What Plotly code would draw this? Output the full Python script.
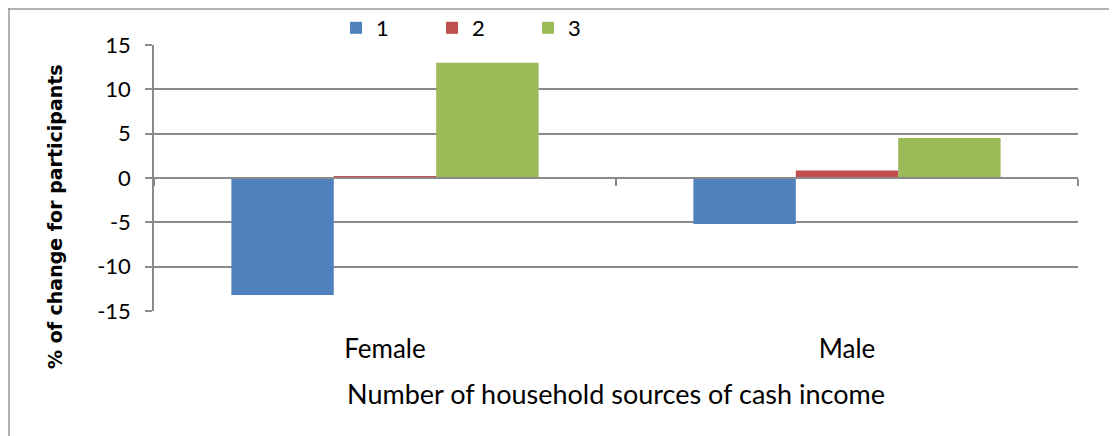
import plotly.graph_objects as go

groups = ["Female", "Male"]
series_names = ["1", "2", "3"]
series_values = [
    [-13.2, -5.2],
    [0.2, 0.85],
    [13.0, 4.5],
]
colors = ["#4F81BD", "#C0504D", "#9BBB59"]
y_ticks = [-15, -10, -5, 0, 5, 10, 15]

# the page body has an 8px margin, so the figure is a bit smaller than the window
W, H = 1109, 428
L, R, T, B = 146, 39, 37, 125
PW, PH = W - L - R, H - T - B

fig = go.Figure()

for name, vals, col in zip(series_names, series_values, colors):
    fig.add_trace(
        go.Bar(
            x=groups,
            y=vals,
            name=name,
            marker=dict(color=col, line=dict(width=0)),
        )
    )

# helper trace so the zero-line axis (x2) knows the categories
fig.add_trace(
    go.Scatter(
        x=groups,
        y=[0, 0],
        xaxis="x2",
        mode="markers",
        marker=dict(opacity=0),
        showlegend=False,
        hoverinfo="skip",
    )
)

grid_col = "#8a8a8a"
font = "Lato, 'Open Sans', sans-serif"

fig.update_layout(
    width=W,
    height=H,
    template="plotly_white",
    paper_bgcolor="white",
    plot_bgcolor="white",
    margin=dict(l=L, r=R, t=T, b=B, autoexpand=False),
    barmode="group",
    bargap=0.335,
    bargroupgap=0,
    font=dict(family=font, size=22, color="black"),
    xaxis=dict(
        type="category",
        automargin=False,
        showgrid=False,
        showline=False,
        ticks="",
        tickfont=dict(size=26),
        ticklabelstandoff=20,
        title=dict(
            text="Number of household sources of cash income",
            font=dict(size=27),
            standoff=22,
        ),
    ),
    xaxis2=dict(
        type="category",
        overlaying="x",
        matches="x",
        anchor="free",
        position=0.5,
        showgrid=False,
        showline=True,
        linecolor=grid_col,
        linewidth=1.5,
        ticks="outside",
        tickson="boundaries",
        ticklen=7,
        tickcolor=grid_col,
        tickwidth=1.5,
        showticklabels=False,
    ),
    yaxis=dict(
        range=[-15, 15],
        automargin=False,
        tickvals=y_ticks,
        ticktext=[str(v) for v in y_ticks],
        showgrid=True,
        gridcolor=grid_col,
        gridwidth=1.5,
        zeroline=False,
        showline=True,
        linecolor=grid_col,
        linewidth=1.5,
        ticks="outside",
        ticklen=7,
        tickcolor=grid_col,
        tickwidth=1.5,
        tickfont=dict(size=22),
        ticklabelstandoff=10,
    ),
    annotations=[
        dict(
            text="<b>% of change for participants</b>",
            textangle=-90,
            xref="paper",
            yref="paper",
            x=(47 - L) / PW,
            y=(H - B - 209) / PH,
            xanchor="center",
            yanchor="middle",
            showarrow=False,
            font=dict(family="DejaVu Sans", size=19, color="black"),
        )
    ],
    legend=dict(
        orientation="h",
        x=0.197,
        xanchor="left",
        y=(H - B - 20) / PH,
        yanchor="middle",
        entrywidth=51,
        font=dict(size=22),
        bgcolor="rgba(0,0,0,0)",
        itemclick=False,
    ),
    showlegend=True,
    # thin frame like the original chart border
    shapes=[
        dict(type="line", xref="paper", yref="paper",
             x0=-L / PW, x1=(W - L) / PW,
             y0=(H - B - 1) / PH, y1=(H - B - 1) / PH,
             line=dict(color="#999999", width=1.5)),
        dict(type="line", xref="paper", yref="paper",
             x0=-(L - 1) / PW, x1=-(L - 1) / PW,
             y0=-B / PH, y1=(H - B) / PH,
             line=dict(color="#999999", width=1.5)),
    ],
)

fig.write_html("out.html")
